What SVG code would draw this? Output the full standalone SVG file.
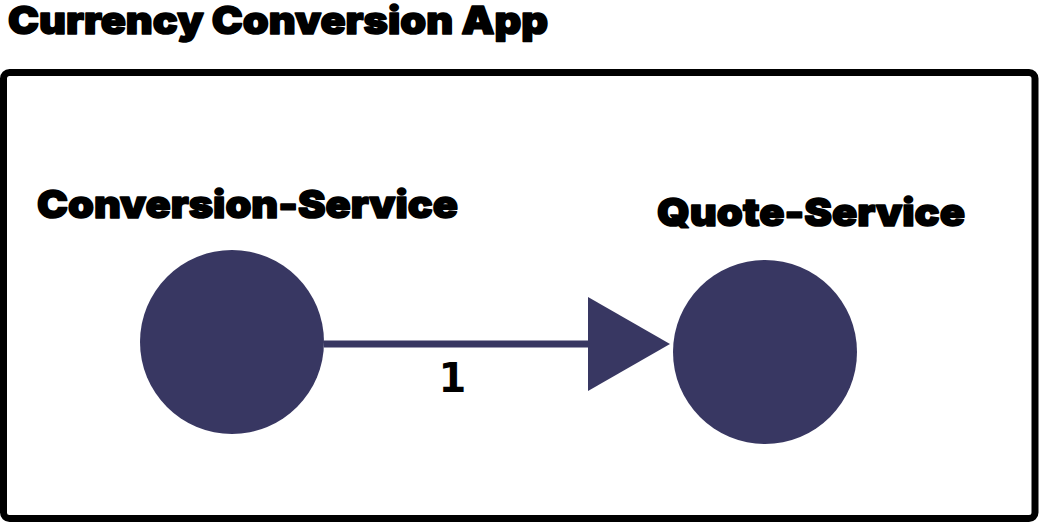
<svg xmlns="http://www.w3.org/2000/svg" width="1039" height="524" viewBox="0 0 1039 524">
<style>
.h{font-family:Inter,"Liberation Sans",sans-serif;font-weight:900;fill:#000;stroke:#000;stroke-width:1.6;stroke-linejoin:round}
.n{fill:#383762}
.e{stroke:#383762;stroke-width:7;fill:none}
.l{font-family:"DejaVu Sans",sans-serif;font-weight:bold;fill:#000}
</style>
<rect width="1039" height="524" fill="#fff"/>
<g id="app">
<rect x="3.5" y="72.5" width="1031.5" height="446" rx="6" fill="none" stroke="#000" stroke-width="7"/>
<text class="h" x="8" y="34" font-size="38" textLength="540" lengthAdjust="spacingAndGlyphs">Currency Conversion App</text>
</g>
<g id="connectors">
<line class="e" x1="324" y1="344" x2="592" y2="344"/>
<polygon class="n" points="588,297 670,344 588,391"/>
<text class="l" x="452.5" y="392" font-size="40" text-anchor="middle">1</text>
</g>
<g id="conversion-service">
<circle class="n" cx="232" cy="342" r="92"/>
<text class="h" x="37" y="218" font-size="39" textLength="421" lengthAdjust="spacingAndGlyphs">Conversion-Service</text>
</g>
<g id="quote-service">
<circle class="n" cx="765" cy="352" r="92"/>
<text class="h" x="657" y="226" font-size="39" textLength="308" lengthAdjust="spacingAndGlyphs">Quote-Service</text>
</g>
</svg>
